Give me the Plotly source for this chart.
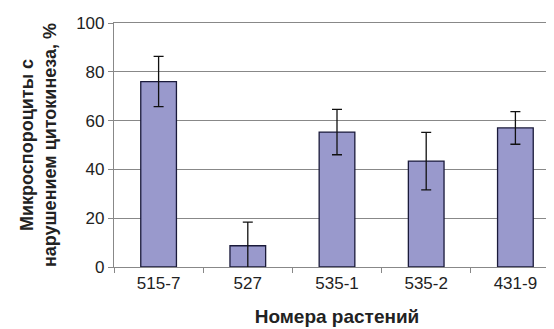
import plotly.graph_objects as go

categories = ["515-7", "527", "535-1", "535-2", "431-9"]
values = [76.0, 8.7, 55.3, 43.4, 57.0]
errors = [10.3, 9.7, 9.3, 11.8, 6.7]
y_ticks = [0, 20, 40, 60, 80, 100]

fig = go.Figure(go.Bar(
    x=categories, y=values,
    width=0.4,
    marker=dict(color="#9999CC", line=dict(color="#1a1a3a", width=1.3)),
    error_y=dict(type="data", array=errors, visible=True, color="#111111", thickness=1.3, width=5),
))

font = "Liberation Sans, Arial, sans-serif"
fig.update_layout(
    width=554, height=329,
    margin=dict(l=106, r=2, t=15, b=70),
    paper_bgcolor="white", plot_bgcolor="white",
    showlegend=False,
    font=dict(family=font, size=16, color="#222222"),
    xaxis=dict(
        automargin=False,
        showline=True, linecolor="#888888", linewidth=1.2, mirror=True,
        ticks="outside", tickson="boundaries", ticklen=5, tickcolor="#888888",
        tickfont=dict(size=17),
        title=dict(text="<b>Номера растений</b>", font=dict(size=19), standoff=18),
    ),
    yaxis=dict(
        automargin=False,
        range=[0, 100], tickvals=y_ticks,
        showline=True, linecolor="#888888", linewidth=1.2, mirror=True,
        ticks="outside", ticklen=5, tickcolor="#888888",
        showgrid=True, gridcolor="#888888", gridwidth=1,
        tickfont=dict(size=17),
        title=dict(text="<b>Микроспороциты с<br>нарушением цитокинеза, %</b>", font=dict(size=18), standoff=14),
    ),
)

fig.write_html("out.html")
